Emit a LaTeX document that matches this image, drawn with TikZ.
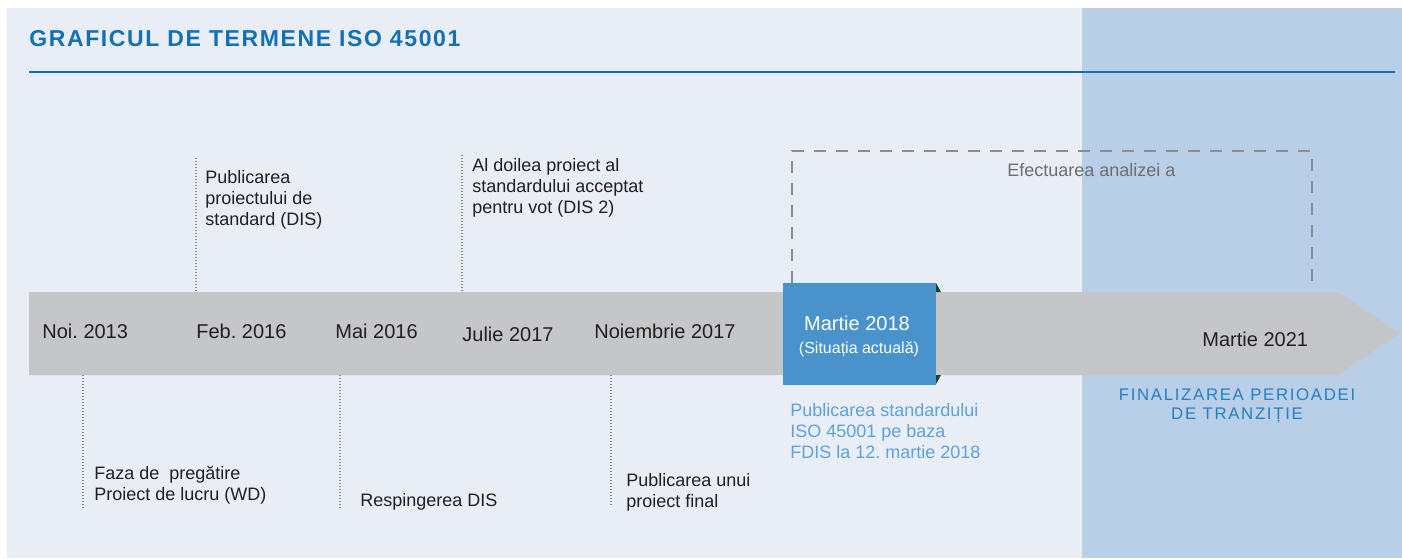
\documentclass[tikz,border=0pt]{standalone}
\usepackage{fontspec}
\setmainfont{Liberation Sans}
\newfontfamily\titlefont{Liberation Sans}[LetterSpace=7]
\newfontfamily\capsfont{Liberation Sans}[LetterSpace=10]
\usepackage{tikz}
\usetikzlibrary{positioning,calc}
\frenchspacing
\definecolor{panel}{HTML}{E9EDF6}
\definecolor{transreg}{HTML}{B9CEE7}
\definecolor{band}{HTML}{C5C6C8}
\definecolor{nowblue}{HTML}{4A92CC}
\definecolor{titleblue}{HTML}{1370B5}
\definecolor{lightblue}{HTML}{5EA2D8}
\definecolor{capsblue}{HTML}{2580C3}
\definecolor{dashgray}{HTML}{8C8C8C}
\definecolor{dotgray}{HTML}{888888}
\definecolor{softgray}{HTML}{6D6E71}
\definecolor{ink}{HTML}{231F20}
\definecolor{fold}{HTML}{0D4B2F}

\begin{document}
\begin{tikzpicture}[x=0.5pt,y=-0.5pt,
  date/.style={anchor=base west,inner sep=0pt,text=ink,font=\fontsize{10}{12}\selectfont},
  note/.style={anchor=base west,inner sep=0pt,align=left,text=ink,font=\fontsize{9}{10.5}\selectfont},
  tick/.style={draw=dotgray,line width=0.7pt,dash pattern=on 0.5pt off 1pt},
  dashbox/.style={draw=dashgray,line width=0.7pt,dash pattern=on 6pt off 5pt}]
\useasboundingbox (0,0) rectangle (1402,558);
\fill[panel] (7,8) rectangle (1402,558);
\fill[transreg] (1082,8) rectangle (1402,558);
\node[anchor=base west,inner sep=0pt,text=titleblue,font=\titlefont\bfseries\fontsize{11.5}{13}\selectfont] (title) at (29,46) {GRAFICUL DE TERMENE ISO 45001};
\draw[titleblue,line width=1pt] (29,72) coordinate(rule west) -- (1395,72) coordinate(rule east);
\draw[dashbox] (792,283) coordinate(dash sw) -- (792,151) -- (1312,151) -- (1312,283) coordinate(dash se);
\node[anchor=base west,inner sep=0pt,text=softgray,font=\fontsize{9}{10.5}\selectfont] (efect) at (1007,176) {Efectuarea analizei a};
\fill[band] (29,292) coordinate(band nw) -- (1338,292) -- (1400,333) coordinate(tip) -- (1338,375) -- (29,375) coordinate(band sw) -- cycle;
\fill[fold] (936,283) -- (936,292) -- (941,292) -- cycle;
\fill[fold] (936,375) -- (941,375) -- (936,384) -- cycle;
\node[fill=nowblue,inner sep=0pt,minimum width=76.5pt,minimum height=51pt] (now) at (859.5,334) {};
\node[date] (noi) at (42,338) {Noi. 2013};
\node[date] (feb) at (196,338) {Feb. 2016};
\node[date] (mai) at (335,338) {Mai 2016};
\node[date] (iul) at (462,341) {Julie 2017};
\node[date] (nov) at (594,338) {Noiembrie 2017};
\node[date,text=white,anchor=base] (mar18) at (857,330) {Martie 2018};
\node[anchor=base,inner sep=0pt,text=white,font=\fontsize{8}{10}\selectfont] (sit) at (859,353) {(Situația actuală)};
\node[date] (mar21) at (1202,346) {Martie 2021};
\node[anchor=base,inner sep=0pt,align=center,text=capsblue,font=\capsfont\fontsize{8.4}{9.5}\selectfont] (final) at (1237,419) {FINALIZAREA PERIOADEI\\DE TRANZIȚIE};
\coordinate (dis top) at (196,158);
\coordinate (dis bot) at (196,292);
\coordinate (dis2 top) at (462,155);
\coordinate (dis2 bot) at (462,292);
\coordinate (wd top) at (83,375);
\coordinate (wd bot) at (83,510);
\coordinate (resp top) at (340,375);
\coordinate (resp bot) at (340,510);
\coordinate (fin top) at (611,375);
\coordinate (fin bot) at (611,505);
\draw[tick] (dis top) -- (dis bot);
\draw[tick] (dis2 top) -- (dis2 bot);
\draw[tick] (wd top) -- (wd bot);
\draw[tick] (resp top) -- (resp bot);
\draw[tick] (fin top) -- (fin bot);
\node[note] (dis) at (205,225) {Publicarea\\proiectului de\\standard (DIS)};
\node[note] (dis2) at (472,213) {Al doilea proiect al\\standardului acceptat\\pentru vot (DIS 2)};
\node[note] (wd) at (94,500) {Faza de\ \ pregătire\\Proiect de lucru (WD)};
\node[note] (resp) at (360,506) {Respingerea DIS};
\node[note] (fin) at (626,507) {Publicarea unui\\proiect final};
\node[note,text=lightblue] (iso) at (790,458) {Publicarea standardului\\ISO 45001 pe baza\\FDIS la 12. martie 2018};
\end{tikzpicture}
\end{document}
